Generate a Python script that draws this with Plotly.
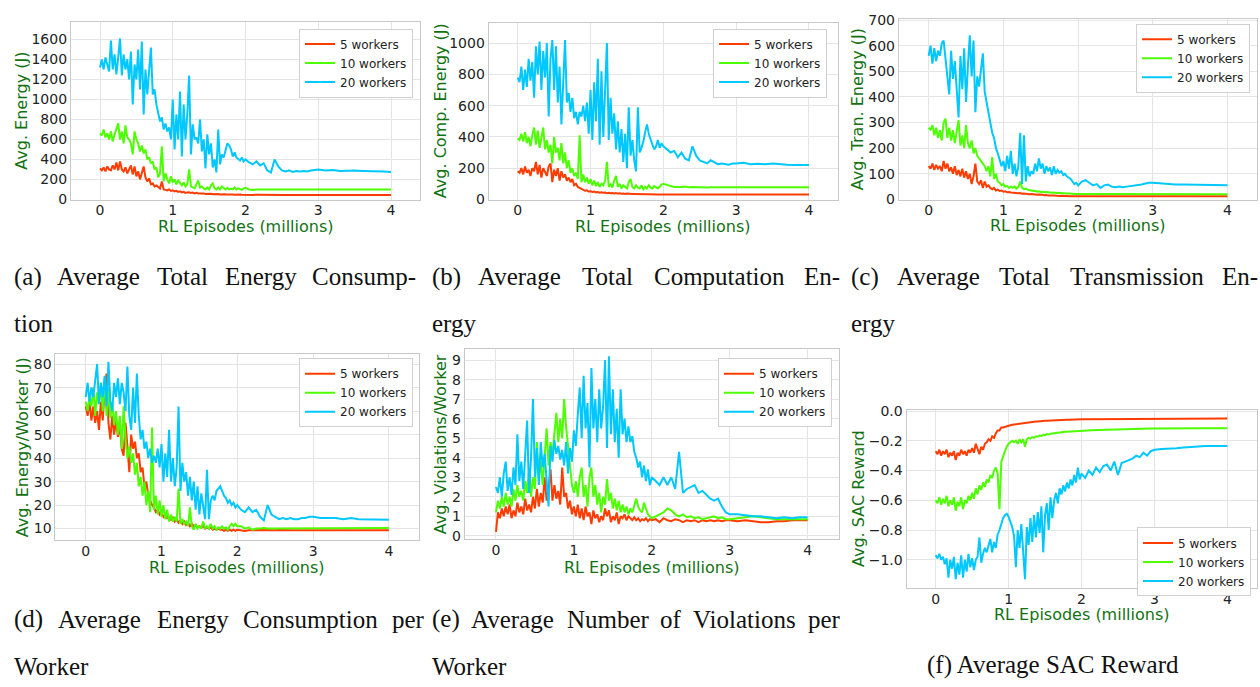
import plotly.graph_objects as go

# ---------------- data ----------------
EPISODES = [
    0.0, 0.025, 0.05, 0.075, 0.1, 0.125, 0.15, 0.175, 0.2, 0.225,
    0.25, 0.275, 0.3, 0.325, 0.35, 0.375, 0.4, 0.425, 0.45, 0.475,
    0.5, 0.525, 0.55, 0.575, 0.6, 0.625, 0.65, 0.675, 0.7, 0.725,
    0.75, 0.775, 0.8, 0.825, 0.85, 0.875, 0.9, 0.925, 0.95, 0.975,
    1.0, 1.025, 1.05, 1.075, 1.1, 1.125, 1.15, 1.175, 1.2, 1.225,
    1.25, 1.275, 1.3, 1.325, 1.35, 1.375, 1.4, 1.425, 1.45, 1.475,
    1.5, 1.525, 1.55, 1.575, 1.6, 1.625, 1.65, 1.675, 1.7, 1.725,
    1.75, 1.775, 1.8, 1.825, 1.85, 1.875, 1.9, 1.925, 1.95, 1.975,
    2.0,
    2.05, 2.1, 2.15, 2.2, 2.25, 2.3, 2.35, 2.4, 2.45, 2.5,
    2.55, 2.6, 2.65, 2.7, 2.75, 2.8, 2.85, 2.9, 2.95, 3.0,
    3.1, 3.2, 3.3, 3.4, 3.5, 3.6, 3.7, 3.8, 3.9, 4.0,
]

# (a) Average total energy (J)
TOTAL_5 = [
    310, 290, 320, 280, 330, 300, 290, 340, 300, 370,
    290, 380, 300, 280, 320, 260, 300, 340, 250, 330,
    230, 280, 200, 260, 330, 220, 180, 210, 150, 160,
    130, 140, 120, 110, 180, 100, 95, 90, 100, 85,
    90, 80, 85, 75, 80, 70, 75, 65, 70, 72,
    65, 68, 60, 65, 60, 62, 58, 60, 55, 58,
    55, 57, 52, 55, 52, 54, 50, 52, 50, 52,
    48, 50, 48, 50, 47, 49, 46, 48, 46, 47,
    46,
    46, 45, 46, 45, 45, 46, 45, 45, 46, 45,
    45, 45, 46, 45, 45, 45, 45, 46, 45, 45,
    45, 45, 45, 45, 45, 45, 45, 45, 45, 45,
]
TOTAL_10 = [
    660, 640, 700, 620, 660, 600, 680, 580, 650, 700,
    760, 600, 680, 560, 740, 620, 600, 560, 450, 680,
    600, 560, 480, 540, 460, 500, 400, 420, 360, 380,
    300, 320, 220, 260, 530, 180, 260, 200, 160, 230,
    170, 200, 150, 190, 160, 140, 170, 130, 150, 300,
    130, 120, 110, 150, 190, 120, 130, 110, 100, 120,
    100, 140, 160, 110, 100, 120, 100, 130, 110, 100,
    115, 100, 105, 100, 120, 100, 110, 100, 95, 110,
    115,
    100, 95, 98, 100, 96, 98, 100, 98, 100, 100,
    98, 100, 99, 100, 98, 100, 100, 98, 100, 100,
    100, 98, 100, 100, 100, 98, 100, 100, 100, 100,
]
TOTAL_20 = [
    1320, 1400, 1300, 1420, 1350, 1280, 1590, 1300, 1450, 1250,
    1420, 1610, 1240, 1450, 1300, 1400, 1200, 1480, 950, 1350,
    1200, 1500, 1100, 1580, 850, 1300, 1050, 1250, 1520, 1050,
    1100, 950, 850, 780, 820, 700, 760, 680, 720, 600,
    1000, 500, 850, 600, 1080, 430, 950, 600, 850, 1240,
    450, 750, 600, 620, 560, 800, 480, 600, 310, 650,
    450, 560, 320, 400, 270, 700, 350, 450, 420, 480,
    560, 540, 500, 430, 470, 420, 400, 390, 420, 380,
    400,
    370, 350, 380, 340, 360, 290, 270, 400, 330, 290,
    280, 290, 275, 285, 280, 285, 280, 290, 295, 300,
    290, 295, 285, 290, 288, 285, 285, 280, 280, 275,
]

# (b) Average total computation energy (J)
COMP_5 = [
    180, 170, 200, 160, 210, 170, 190, 150, 200, 180,
    240, 160, 220, 140, 200, 170, 150, 210, 230, 110,
    190, 150, 200, 120, 180, 140, 160, 120, 140, 110,
    130, 90, 100, 80, 75, 65, 60, 55, 58, 50,
    52, 48, 50, 45, 47, 43, 45, 42, 44, 40,
    42, 39, 41, 38, 40, 37, 39, 36, 38, 35,
    37, 35, 36, 34, 35, 34, 35, 33, 34, 33,
    34, 33, 33, 32, 33, 32, 33, 32, 32, 32,
    32,
    32, 31, 32, 32, 31, 32, 32, 31, 32, 32,
    31, 32, 32, 31, 32, 32, 31, 32, 32, 31,
    32, 32, 31, 32, 32, 31, 32, 32, 31, 32,
]
COMP_10 = [
    390, 380, 420, 370, 430, 360, 400, 340, 410, 460,
    350, 440, 330, 400, 460, 320, 380, 300, 350, 230,
    400, 300, 330, 250, 360, 230, 300, 200, 250, 170,
    200, 150, 170, 130, 410, 110, 160, 110, 140, 100,
    130, 90, 120, 85, 110, 80, 100, 90, 120, 240,
    80, 100, 75, 120, 150, 80, 100, 70, 90, 80,
    70, 110, 130, 80, 70, 90, 75, 70, 90, 65,
    80, 70, 90, 75, 70, 85, 75, 70, 80, 95,
    100,
    90, 85, 80, 78, 80, 82, 78, 80, 78, 80,
    78, 76, 78, 78, 76, 78, 76, 78, 78, 78,
    78, 78, 78, 78, 78, 78, 78, 80, 78, 78,
]
COMP_20 = [
    780, 750, 850, 700, 830, 720, 900, 760, 880, 650,
    980, 800, 1010, 700, 950, 780, 1000, 530, 900, 1020,
    700, 980, 620, 850, 480, 780, 1020, 620, 680, 560,
    650, 520, 560, 480, 560, 530, 600, 500, 620, 420,
    700, 380, 750, 500, 900, 350, 820, 400, 700, 1000,
    380, 650, 420, 550, 320, 500, 300, 450, 240, 420,
    200, 590, 280, 380, 250, 180, 590, 300, 330, 370,
    430, 480, 420, 380, 350, 320, 340, 380, 330, 360,
    340,
    320, 300, 310, 270, 300, 260, 250, 340, 280, 250,
    240, 230, 250, 235, 225, 230, 225, 222, 230, 230,
    235, 225, 228, 225, 230, 225, 222, 220, 222, 220,
]

# (c) Average total transmission energy (J)
TRAN_5 = [
    130, 120, 140, 115, 135, 120, 130, 110, 150, 120,
    140, 110, 125, 100, 130, 95, 115, 90, 120, 85,
    110, 80, 100, 60, 90, 140, 70, 60, 75, 45,
    70, 50, 55, 45, 40, 45, 35, 38, 33, 35,
    30, 32, 28, 29, 27, 26, 25, 26, 24, 25,
    22, 23, 21, 22, 20, 21, 19, 20, 18, 19,
    17, 18, 16, 17, 15, 16, 15, 15, 14, 14,
    13, 14, 13, 13, 12, 13, 12, 12, 12, 12,
    12,
    12, 13, 12, 12, 13, 12, 12, 13, 12, 12,
    13, 12, 12, 13, 12, 12, 13, 12, 12, 13,
    12, 12, 13, 12, 12, 13, 12, 12, 12, 12,
]
TRAN_10 = [
    280, 270, 290, 250, 280, 240, 270, 230, 300, 315,
    240, 280, 230, 270, 220, 260, 310, 210, 250, 200,
    290, 220, 200, 230, 180, 200, 170, 160, 150, 140,
    130, 110, 130, 90, 165, 80, 100, 70, 65, 55,
    60, 50, 52, 45, 50, 45, 50, 42, 48, 70,
    45, 40, 42, 38, 36, 35, 33, 34, 30, 32,
    29, 30, 28, 29, 27, 28, 26, 27, 25, 26,
    25, 25, 24, 24, 23, 23, 22, 22, 22, 21,
    21,
    21, 20, 20, 20, 20, 20, 20, 20, 21, 21,
    20, 20, 20, 20, 20, 20, 20, 20, 20, 20,
    20, 20, 20, 20, 20, 20, 20, 20, 20, 20,
]
TRAN_20 = [
    560, 600, 530, 590, 540, 580, 560, 610, 620, 560,
    480, 410, 580, 470, 540, 430, 320, 560, 430, 590,
    380, 520, 640, 480, 620, 340, 480, 440, 500, 570,
    420, 380, 330, 300, 260, 240, 200, 180, 150, 130,
    150, 110, 170, 120, 190, 100, 140, 90, 130, 260,
    60, 250, 70, 130, 90, 110, 100, 140, 110, 160,
    120, 140, 100, 130, 110, 125, 95, 130, 100, 115,
    105, 110, 95, 100, 90, 85, 80, 70, 60, 65,
    55,
    70, 75, 65, 55, 60, 45, 55, 58, 50, 48,
    50, 48, 50, 52, 55, 55, 58, 62, 65, 65,
    62, 60, 58, 58, 57, 56, 56, 55, 55, 55,
]

# (d) Average energy per worker (J)
PER_WORKER_5 = [
    62, 58, 64, 56, 62, 55, 60, 52, 64, 56,
    70, 76, 55, 48, 58, 50, 56, 49, 54, 44,
    41, 55, 45, 34, 50, 44, 47, 40, 42, 34,
    36, 28, 30, 24, 22, 20, 19, 17, 18, 16,
    17, 15, 16, 14.5, 15, 13.5, 15, 13, 14, 12.5,
    13.5, 12, 13, 11.5, 12.5, 11, 12, 11, 11.5, 10.5,
    11, 10.5, 11, 10, 10.5, 10, 10.5, 9.5, 10, 9.5,
    10, 9.5, 9.5, 9, 9.5, 9, 9.5, 9, 9.5, 9,
    9.5,
    9.3, 9, 9.3, 9.2, 9.3, 9.4, 9.3, 9.3, 9.4, 9.3,
    9.4, 9.3, 9.3, 9.4, 9.3, 9.3, 9.4, 9.3, 9.3, 9.3,
    9.3, 9.4, 9.3, 9.3, 9.4, 9.3, 9.3, 9.4, 9.3, 9.3,
]
PER_WORKER_10 = [
    64, 60, 66, 62, 70, 58, 68, 63, 72, 60,
    74, 58, 70, 57, 64, 54, 60, 50, 58, 44,
    62, 48, 40, 45, 38, 42, 33, 38, 28, 32,
    24, 30, 20, 26, 17, 53, 18, 24, 16, 22,
    15, 20, 14, 18, 13, 16, 13, 15, 13, 27,
    12, 14, 12, 13, 11, 19, 11, 9.5, 12, 10,
    11, 10, 13, 10, 11, 10, 12, 10, 11, 9.5,
    10.5, 10, 11, 10, 10.5, 9.5, 11, 12, 11, 12,
    11,
    11, 10, 10.5, 9.5, 10, 10, 10.2, 10, 10, 10,
    10, 10.2, 10, 10, 10, 10, 10, 10, 10, 10.2,
    10, 10, 10, 10, 10.2, 10.2, 10.2, 10.2, 10.3, 10.3,
]
PER_WORKER_20 = [
    66, 72, 64, 70, 66, 73, 80, 63, 72, 66,
    75, 62, 81, 64, 60, 72, 66, 74, 63, 72,
    68, 60, 79, 58, 52, 70, 55, 76, 58, 48,
    52, 44, 47, 40, 44, 38, 41, 38, 44, 36,
    46, 30, 42, 32, 52, 30, 40, 28, 36, 62,
    26, 38, 30, 34, 24, 32, 22, 30, 18, 28,
    16, 25, 20, 14, 35, 14, 22, 24, 22, 26,
    27, 28, 26, 24, 23, 21, 22, 20, 21, 19,
    20,
    18, 17, 19, 17, 18, 15, 13.5, 20, 16, 15,
    14, 14.5, 14, 14.5, 14, 14, 14.5, 14.5, 15, 15,
    14.5, 14.5, 14.5, 14, 14.5, 14, 14, 14, 14, 13.8,
]

# (e) Average number of violations per worker
VIOL_5 = [
    0.2, 1.2, 0.9, 1.4, 1.0, 1.5, 1.1, 1.6, 0.9, 1.3,
    1.0, 1.7, 1.2, 1.5, 1.1, 1.9, 1.3, 1.6, 1.2, 2.0,
    1.4, 2.4, 1.5, 2.2, 1.7, 3.0, 1.8, 2.4, 3.4, 1.8,
    2.6, 1.9, 2.3, 1.6, 3.5, 2.0, 2.2, 1.4, 1.8, 1.1,
    1.5, 1.0, 1.6, 0.9, 1.4, 0.8, 1.5, 1.0, 1.2, 0.6,
    1.3, 0.9, 1.1, 0.7, 1.0, 0.8, 1.4, 1.0, 1.3, 0.7,
    1.0, 0.8, 1.2, 0.6, 1.0, 0.9, 1.1, 0.8, 1.0, 0.9,
    0.8, 0.95, 0.8, 0.9, 0.75, 0.85, 0.8, 0.9, 0.75, 0.85,
    0.8,
    0.85, 0.7, 0.9, 0.8, 0.75, 0.85, 0.8, 0.7, 0.8, 0.75,
    0.8, 0.7, 0.8, 0.75, 0.8, 0.75, 0.8, 0.75, 0.8, 0.8,
    0.75, 0.8, 0.75, 0.7, 0.7, 0.75, 0.75, 0.8, 0.8, 0.8,
]
VIOL_10 = [
    1.2, 1.8, 1.4, 2.0, 1.5, 2.2, 1.6, 2.0, 1.5, 2.4,
    1.8, 2.6, 2.0, 2.3, 1.8, 2.8, 2.2, 3.4, 2.0, 3.0,
    2.4, 4.8, 3.0, 3.8, 2.6, 4.2, 5.5, 3.6, 4.8, 4.2,
    5.2, 6.3, 4.8, 6.0, 5.0, 7.0, 5.6, 4.5, 3.6, 2.6,
    2.2, 2.8, 2.0, 3.0, 3.5, 2.0, 2.6, 1.5, 3.0, 3.5,
    2.0, 2.6, 1.6, 2.2, 1.2, 2.0, 1.6, 2.9, 1.8, 2.2,
    1.4, 1.9, 1.3, 1.8, 1.2, 1.6, 1.2, 1.5, 1.1, 1.4,
    1.2, 1.6, 1.9, 1.5, 1.3, 1.2, 1.7, 1.4, 1.1, 1.0,
    0.9,
    1.0, 1.1, 1.2, 1.4, 1.3, 1.1, 1.0, 1.1, 0.95, 1.0,
    0.9, 0.95, 0.85, 0.9, 0.95, 1.0, 0.9, 0.95, 0.85, 0.85,
    0.9, 0.95, 1.0, 0.95, 0.9, 0.85, 0.85, 0.85, 0.85, 0.85,
]
VIOL_20 = [
    2.5, 2.2, 3.0, 2.0, 3.2, 3.8, 2.3, 3.0, 2.1, 3.5,
    2.6, 5.2, 2.8, 3.8, 2.4, 4.2, 5.9, 2.2, 4.0, 7.0,
    3.0, 4.5, 2.6, 4.8, 3.5, 4.2, 3.0, 1.5, 4.6, 3.8,
    4.9, 4.2, 4.6, 3.9, 4.4, 3.6, 4.8, 3.2, 4.5, 3.8,
    5.4, 4.6, 6.2, 7.6, 5.0, 8.2, 5.5, 6.8, 3.5, 8.6,
    5.5, 7.0, 4.8, 7.5, 5.5, 6.6, 9.0, 4.5, 9.2, 5.2,
    7.5, 4.8, 6.5, 4.0, 7.5, 5.2, 6.0, 4.8, 5.6, 4.8,
    5.1, 4.3, 4.0, 3.5, 3.8, 3.0, 3.6, 2.8, 3.4, 2.6,
    3.0,
    2.8, 2.6, 3.0, 2.6, 3.0, 2.4, 4.3, 2.2, 2.4, 2.5,
    2.6, 2.2, 2.3, 2.1, 1.9, 1.8, 1.9, 1.5, 1.2, 1.1,
    1.1, 1.05, 1.0, 1.0, 0.95, 0.9, 0.95, 0.9, 0.95, 0.95,
]

# (f) Average SAC reward
REWARD_5 = [
    -0.27, -0.29, -0.26, -0.30, -0.27, -0.29, -0.26, -0.31, -0.28, -0.30,
    -0.27, -0.33, -0.28, -0.30, -0.26, -0.29, -0.27, -0.30, -0.26, -0.28,
    -0.25, -0.28, -0.22, -0.26, -0.29, -0.24, -0.26, -0.22, -0.21, -0.19,
    -0.20, -0.17, -0.18, -0.15, -0.13, -0.13, -0.11, -0.11, -0.105, -0.10,
    -0.10, -0.095, -0.092, -0.09, -0.088, -0.085, -0.083, -0.082, -0.08, -0.078,
    -0.077, -0.075, -0.074, -0.073, -0.072, -0.07, -0.07, -0.068, -0.068, -0.066,
    -0.066, -0.065, -0.064, -0.063, -0.063, -0.062, -0.061, -0.061, -0.06, -0.06,
    -0.059, -0.059, -0.058, -0.058, -0.057, -0.057, -0.056, -0.056, -0.056, -0.055,
    -0.055,
    -0.055, -0.055, -0.054, -0.054, -0.054, -0.054, -0.053, -0.053, -0.053, -0.053,
    -0.053, -0.052, -0.052, -0.052, -0.052, -0.052, -0.052, -0.052, -0.051, -0.051,
    -0.051, -0.051, -0.051, -0.051, -0.05, -0.05, -0.05, -0.05, -0.05, -0.05,
]
REWARD_10 = [
    -0.60, -0.62, -0.58, -0.63, -0.59, -0.62, -0.57, -0.64, -0.60, -0.63,
    -0.58, -0.67, -0.61, -0.64, -0.58, -0.66, -0.60, -0.62, -0.57, -0.60,
    -0.55, -0.59, -0.52, -0.56, -0.50, -0.53, -0.48, -0.51, -0.46, -0.48,
    -0.43, -0.45, -0.40, -0.38, -0.42, -0.66, -0.34, -0.30, -0.27, -0.24,
    -0.22, -0.21, -0.20, -0.21, -0.20, -0.22, -0.19, -0.21, -0.19, -0.24,
    -0.19, -0.18, -0.185, -0.175, -0.18, -0.17, -0.172, -0.165, -0.168, -0.16,
    -0.162, -0.155, -0.157, -0.152, -0.15, -0.148, -0.147, -0.145, -0.144, -0.142,
    -0.141, -0.14, -0.139, -0.138, -0.137, -0.136, -0.135, -0.134, -0.133, -0.132,
    -0.132,
    -0.131, -0.13, -0.129, -0.128, -0.127, -0.126, -0.125, -0.124, -0.123, -0.122,
    -0.121, -0.12, -0.12, -0.119, -0.119, -0.118, -0.118, -0.117, -0.117, -0.117,
    -0.116, -0.116, -0.116, -0.115, -0.115, -0.115, -0.115, -0.115, -0.115, -0.115,
]
REWARD_20 = [
    -0.97, -0.99, -0.96, -1.00, -0.98, -1.03, -0.99, -1.12, -1.00, -1.06,
    -0.98, -1.13, -1.02, -1.10, -0.97, -1.12, -1.00, -1.08, -0.96, -1.05,
    -0.99, -1.07, -1.00, -0.98, -0.85, -1.02, -0.96, -0.92, -0.95, -0.90,
    -0.86, -0.95, -0.88, -0.92, -0.83, -0.80, -0.76, -0.72, -0.70, -0.69,
    -0.71, -0.74, -0.78, -0.84, -1.05, -0.80, -0.92, -0.76, -0.98, -1.13,
    -0.78, -0.90, -0.72, -0.88, -0.70, -0.85, -0.68, -0.82, -0.64, -0.95,
    -0.70, -0.62, -0.80, -0.58, -0.72, -0.60, -0.55, -0.62, -0.52, -0.56,
    -0.50, -0.54, -0.48, -0.52, -0.46, -0.50, -0.43, -0.48, -0.38, -0.46,
    -0.42,
    -0.45, -0.40, -0.43, -0.38, -0.41, -0.37, -0.36, -0.40, -0.34, -0.43,
    -0.35, -0.34, -0.33, -0.32, -0.30, -0.31, -0.28, -0.30, -0.27, -0.26,
    -0.255, -0.25, -0.25, -0.245, -0.24, -0.235, -0.235, -0.235, -0.235, -0.235,
]

WORKER_LABELS = ["5 workers", "10 workers", "20 workers"]
X_TICKS = [0, 1, 2, 3, 4]
Y_TICKS_TOTAL = [0, 200, 400, 600, 800, 1000, 1200, 1400, 1600]
Y_TICKS_COMP = [0, 200, 400, 600, 800, 1000]
Y_TICKS_TRAN = [0, 100, 200, 300, 400, 500, 600, 700]
Y_TICKS_PER_WORKER = [10, 20, 30, 40, 50, 60, 70, 80]
Y_TICKS_VIOL = [0, 1, 2, 3, 4, 5, 6, 7, 8, 9]
Y_TICKS_REWARD = [-1.0, -0.8, -0.6, -0.4, -0.2, 0.0]
X_TITLE = "RL Episodes (millions)"

# ---------------- styling ----------------
W, H = 1260, 687
LINE_COLORS = ["#ff3c00", "#4dff00", "#00c8ff"]
GREEN = "#127212"
FONT = "DejaVu Sans"
SERIF = "Liberation Serif"


def fx(p):
    return p / W


def fy(p):
    return 1 - p / H


all_series = [TOTAL_5, TOTAL_10, TOTAL_20, COMP_5, COMP_10, COMP_20, TRAN_5, TRAN_10, TRAN_20,
              PER_WORKER_5, PER_WORKER_10, PER_WORKER_20, VIOL_5, VIOL_10, VIOL_20,
              REWARD_5, REWARD_10, REWARD_20]
bad = [i for i, s in enumerate(all_series) if len(s) != len(EPISODES)]
if bad:
    raise ValueError("length mismatch: " + str([(i, len(all_series[i])) for i in bad]) + " vs " + str(len(EPISODES)))

PANELS = [
    dict(series=(TOTAL_5, TOTAL_10, TOTAL_20), ytitle="Avg. Energy (J)",
         box=(70.9, 420.1, 15, 197), yrange=(-3, 1778), yticks=Y_TICKS_TOTAL, fmt="",
         legend=(413, 22), ytx=22, xty=223),
    dict(series=(COMP_5, COMP_10, COMP_20), ytitle="Avg. Comp. Energy (J)",
         box=(488.6, 838.1, 16, 197), yrange=(-2, 1131), yticks=Y_TICKS_COMP, fmt="",
         legend=(827, 22), ytx=440, xty=223),
    dict(series=(TRAN_5, TRAN_10, TRAN_20), ytitle="Avg. Tran. Energy (J)",
         box=(898.8, 1257.4, 12, 197), yrange=(-1, 705), yticks=Y_TICKS_TRAN, fmt="",
         legend=(1250, 17), ytx=857, xty=222),
    dict(series=(PER_WORKER_5, PER_WORKER_10, PER_WORKER_20), ytitle="Avg. Energy/Worker (J)",
         box=(55.4, 419.2, 355, 545), yrange=(5.1, 84.2), yticks=Y_TICKS_PER_WORKER, fmt="",
         legend=(413, 359), ytx=22, xty=572),
    dict(series=(VIOL_5, VIOL_10, VIOL_20), ytitle="Avg. Violations/Worker",
         box=(464.8, 838.8, 350, 544), yrange=(-0.17, 9.55), yticks=Y_TICKS_VIOL, fmt="",
         legend=(832, 359), ytx=440, xty=572),
    dict(series=(REWARD_5, REWARD_10, REWARD_20), ytitle="Avg. SAC Reward",
         box=(906.5, 1256.5, 412, 594), yrange=(-1.19, 0.007), yticks=Y_TICKS_REWARD, fmt=".1f",
         legend=(1251, 532), ytx=858, xty=620),
]

fig = go.Figure()
annotations = []
layout = {}

for i, P in enumerate(PANELS):
    n = "" if i == 0 else str(i + 1)
    leg = "legend" if i == 0 else "legend" + str(i + 1)
    for lab, ys, col in zip(WORKER_LABELS, P["series"], LINE_COLORS):
        fig.add_trace(go.Scatter(
            x=EPISODES, y=ys, mode="lines", name=lab,
            line=dict(color=col, width=2),
            xaxis="x" + n, yaxis="y" + n, legend=leg, showlegend=True,
        ))
    x0, x1, yt, yb = P["box"]
    common = dict(showline=True, linecolor="#c8c8c8", linewidth=1, mirror=True,
                  showgrid=True, gridcolor="#e4e4e4", gridwidth=1, zeroline=False,
                  tickfont=dict(family=FONT, size=14, color="#222222"), ticks="")
    layout["xaxis" + n] = dict(domain=[fx(x0), fx(x1)], range=[-0.4, 4.4], anchor="y" + n,
                               tickvals=X_TICKS, ticklabelstandoff=-2, **common)
    yax = dict(domain=[fy(yb), fy(yt)], range=list(P["yrange"]), anchor="x" + n,
               tickvals=P["yticks"], **common)
    if P["fmt"]:
        yax["tickformat"] = P["fmt"]
    layout["yaxis" + n] = yax
    lx, ly = P["legend"]
    layout[leg] = dict(x=fx(lx), y=fy(ly), xanchor="right", yanchor="top",
                       xref="paper", yref="paper",
                       bgcolor="white", bordercolor="#d0d0d0", borderwidth=1,
                       font=dict(family=FONT, size=12, color="#222222"),
                       tracegroupgap=0, itemwidth=30)
    annotations.append(dict(text=P["ytitle"], x=fx(P["ytx"]), y=fy((yt + yb) / 2),
                            xref="paper", yref="paper", showarrow=False, textangle=-90,
                            xanchor="center", yanchor="middle",
                            font=dict(family=FONT, size=16, color=GREEN)))
    annotations.append(dict(text=X_TITLE, x=fx((x0 + x1) / 2), y=fy(P["xty"] + 1),
                            xref="paper", yref="paper", showarrow=False,
                            xanchor="center", yanchor="middle",
                            font=dict(family=FONT, size=16, color=GREEN)))

# captions (justified words placed individually)
CAPTION_WORDS = [
    ("(a)", 12, 276), ("Average", 54.8, 276), ("Total", 154.6, 276), ("Energy", 222.5, 276), ("Consump-", 309.8, 276),
    ("tion", 12, 324),
    ("(b)", 430, 276), ("Average", 476, 276), ("Total", 580, 276), ("Computation", 652.1, 276), ("En-", 802, 276),
    ("ergy", 430, 324),
    ("(c)", 849, 276), ("Average", 894.5, 276), ("Total", 997, 276), ("Transmission", 1067.5, 276), ("En-", 1219.9, 276),
    ("ergy", 849, 324),
    ("(d)", 12, 626), ("Average", 55.5, 626), ("Energy", 154.5, 626), ("Consumption", 241, 626), ("per", 390.1, 626),
    ("Worker", 12, 674),
    ("(e)", 430, 626), ("Average", 469.1, 626), ("Number", 565.2, 626), ("of", 658.4, 626), ("Violations", 690.6, 626),
    ("per", 806.1, 626),
    ("Worker", 430, 674),
]
for word, px, py in CAPTION_WORDS:
    annotations.append(dict(text=word, x=fx(px), y=fy(py), xref="paper", yref="paper",
                            showarrow=False, xanchor="left", yanchor="middle",
                            font=dict(family=SERIF, size=25, color="#111111")))
annotations.append(dict(text="(f) Average SAC Reward", x=fx(1053), y=fy(673), xref="paper", yref="paper",
                        showarrow=False, xanchor="center", yanchor="middle",
                        font=dict(family=SERIF, size=25, color="#111111")))

fig.update_layout(
    width=W, height=H,
    margin=dict(l=0, r=0, t=0, b=0),
    paper_bgcolor="white", plot_bgcolor="white",
    annotations=annotations,
    font=dict(family=FONT),
    **layout,
)

fig.write_html(
    "out.html",
    config={"displayModeBar": False},
    post_script="document.body.style.margin='0';document.body.style.padding='0';"
                "document.body.style.overflow='hidden';",
)
